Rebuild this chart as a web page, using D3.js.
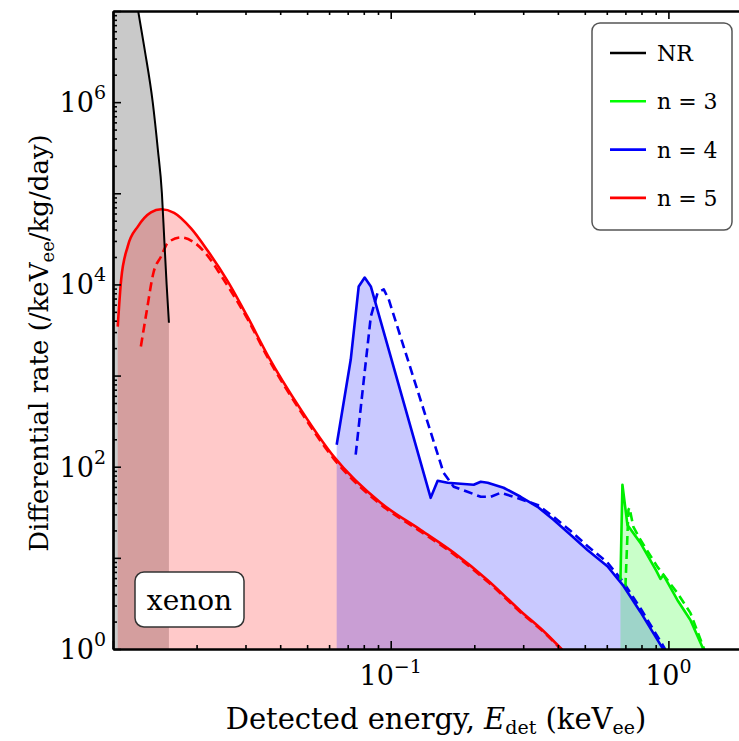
<!DOCTYPE html>
<html>
<head>
<meta charset="utf-8">
<script src="https://cdn.jsdelivr.net/npm/d3@7"></script>
<style>
    body { margin: 0; background: #fff; }
    svg { display: block; }
    text { font-family: "DejaVu Serif", serif; fill: #000; }
</style>
</head>
<body>
<script>
// energies in keVee, rates in /keVee/kg/day
let nrEnergy = [0.0100, 0.0123, 0.0130, 0.0139, 0.0145, 0.0150, 0.0153, 0.0156, 0.0159];
let nrRate = [1e9, 1.03e7, 3.8e6, 1.0e6, 3.05e5, 1.0e5, 3.1e4, 1.0e4, 3.8e3];

let n5Energy = [0.0104, 0.0107, 0.0113, 0.0123, 0.0137, 0.0149, 0.0166, 0.0191, 0.0220, 0.0259, 0.0306, 0.0361, 0.0475, 0.0624, 0.092, 0.128, 0.169, 0.223, 0.294, 0.361, 0.412, 0.45];
let n5Rate = [3.45e3, 1.13e4, 2.62e4, 4.34e4, 6.18e4, 6.67e4, 6.1e4, 4.12e4, 2.31e4, 1.08e4, 4.34e3, 1.66e3, 423, 129, 40.2, 20.3, 11.35, 5.73, 2.6, 1.5, 1.0, 0.75];
let n5DashEnergy = [0.0126, 0.0132, 0.0140, 0.0149, 0.0158, 0.0176, 0.0196, 0.0220, 0.0245, 0.0306, 0.0361, 0.0475, 0.0624, 0.092, 0.128, 0.169, 0.223, 0.294, 0.361, 0.412, 0.45];
let n5DashRate = [2.08e3, 4.92e3, 1.36e4, 2.03e4, 2.89e4, 3.28e4, 2.89e4, 2.03e4, 1.25e4, 4.1e3, 1.57e3, 400, 122, 38.5, 19.5, 10.9, 5.5, 2.52, 1.47, 0.98, 0.74];

let n4Energy = [0.0639, 0.0718, 0.0767, 0.0806, 0.0848, 0.1393, 0.1476, 0.1603, 0.199, 0.211, 0.2234, 0.2549, 0.2936, 0.338, 0.3857, 0.444, 0.511, 0.603, 0.689, 0.793, 0.951, 0.99];
let n4Rate = [174.5, 1.5e3, 9.5e3, 1.19e4, 9.5e3, 45.6, 70.2, 66.7, 63.4, 68.4, 66.7, 58.8, 46.8, 36.3, 26.2, 17.9, 12.2, 8.1, 4.92, 2.55, 1.03, 0.85];
let n4DashEnergy = [0.0748, 0.0793, 0.0848, 0.0898, 0.0944, 0.0984, 0.155, 0.1686, 0.189, 0.211, 0.229, 0.249, 0.277, 0.338, 0.3857, 0.444, 0.511, 0.603, 0.689, 0.793, 0.967, 0.99];
let n4DashRate = [135.5, 702, 4.45e3, 8.17e3, 8.81e3, 6.84e3, 85.9, 60.3, 53.1, 46.8, 46.8, 51.8, 46.8, 38.1, 28.3, 19.8, 13.5, 8.9, 5.4, 2.8, 1.03, 0.88];

let n3Energy = [0.672, 0.683, 0.712, 0.793, 0.905, 0.936, 0.959, 1.077, 1.200, 1.325, 1.36];
let n3Rate = [5.73, 63.4, 23.0, 14.6, 7.2, 5.88, 6.5, 3.45, 2.08, 1.05, 0.85];
let n3DashEnergy = [0.700, 0.718, 0.724, 0.748, 0.793, 0.913, 1.077, 1.200, 1.336, 1.37];
let n3DashRate = [4.80, 33.7, 35.4, 21.9, 15.8, 7.96, 4.12, 2.49, 1.05, 0.85];

let legendLabels = ["NR", "n = 3", "n = 4", "n = 5"];
let legendColors = ["#000000", "#00ff00", "#0000ff", "#ff0000"];
let xMajor = [0.01, 0.1, 1];
let yMajor = [1, 10, 100, 1e3, 1e4, 1e5, 1e6, 1e7];
let xLabels = [{v: 0.1, base: "10", exp: "\u22121"}, {v: 1, base: "10", exp: "0"}];
let yLabels = [{v: 1, exp: "0"}, {v: 100, exp: "2"}, {v: 1e4, exp: "4"}, {v: 1e6, exp: "6"}];

let zip = (a, b) => a.map((v, i) => [v, b[i]]);

let width = 739, height = 741;
let mLeft = 113, mRight = 752, mTop = 11, mBottom = 649;

let svg = d3.select("body").append("svg")
    .attr("width", width)
    .attr("height", height);

let x = d3.scaleLog().domain([0.01, 2]).range([mLeft, mRight]);
let y = d3.scaleLog().domain([1, 1e7]).range([mBottom, mTop]);

svg.append("defs").append("clipPath")
    .attr("id", "plot-clip")
    .append("rect")
    .attr("x", mLeft).attr("y", mTop)
    .attr("width", mRight - mLeft).attr("height", mBottom - mTop);

let plot = svg.append("g").attr("clip-path", "url(#plot-clip)");

let line = (smooth) => d3.line().x(d => x(d[0])).y(d => y(d[1]))
    .curve(smooth ? d3.curveMonotoneX : d3.curveLinear);
let area = (smooth) => d3.area().x(d => x(d[0])).y0(mBottom).y1(d => y(d[1]))
    .curve(smooth ? d3.curveMonotoneX : d3.curveLinear);

// shaded regions under the solid curves
let fills = [
    {data: zip(nrEnergy, nrRate), color: "#000000", smooth: true},
    {data: zip(n5Energy, n5Rate), color: "#ff0000", smooth: true},
    {data: zip(n4Energy, n4Rate), color: "#0000ff", smooth: false},
    {data: zip(n3Energy, n3Rate), color: "#00ff00", smooth: false}
];
plot.selectAll("path.fill")
    .data(fills)
    .enter().append("path")
    .attr("class", "fill")
    .attr("d", d => area(d.smooth)(d.data))
    .attr("fill", d => d.color)
    .attr("fill-opacity", 0.21);

let curves = [
    {data: zip(n5DashEnergy, n5DashRate), color: "#ff0000", dash: true, smooth: true},
    {data: zip(n4DashEnergy, n4DashRate), color: "#0000ee", dash: true},
    {data: zip(n3DashEnergy, n3DashRate), color: "#00ee00", dash: true},
    {data: zip(n5Energy, n5Rate), color: "#ff0000", dash: false, smooth: true},
    {data: zip(n4Energy, n4Rate), color: "#0000ee", dash: false},
    {data: zip(n3Energy, n3Rate), color: "#00ee00", dash: false},
    {data: zip(nrEnergy, nrRate), color: "#000000", dash: false, smooth: true, w: 2}
];
plot.selectAll("path.curve")
    .data(curves)
    .enter().append("path")
    .attr("class", "curve")
    .attr("d", d => line(d.smooth)(d.data))
    .attr("fill", "none")
    .attr("stroke", d => d.color)
    .attr("stroke-width", d => d.w || 2.6)
    .attr("stroke-linejoin", "round")
    .attr("stroke-dasharray", d => d.dash ? "9,5" : null);

// axes: ticks point inward
let minorOf = (majors) => {
    let out = [];
    majors.forEach(m => { for (let k = 2; k <= 9; k++) out.push(m * k); });
    return out;
};
let xMinor = minorOf([0.01, 0.1, 1]).filter(v => v < 2);
let yMinor = minorOf([1, 10, 100, 1e3, 1e4, 1e5, 1e6]);

let addAxis = function (axisFn, scale, values, size, tr) {
    svg.append("g")
        .attr("transform", tr)
        .call(axisFn(scale).tickValues(values).tickSizeInner(-size).tickSizeOuter(0).tickFormat(""))
        .call(g => g.selectAll("line").attr("stroke-width", 1.6))
        .call(g => g.select(".domain").attr("stroke-width", 2.2));
};
addAxis(d3.axisBottom, x, xMajor, 8, `translate(0,${mBottom})`);
addAxis(d3.axisBottom, x, xMinor, 4, `translate(0,${mBottom})`);
addAxis(d3.axisTop, x, xMajor, 8, `translate(0,${mTop})`);
addAxis(d3.axisTop, x, xMinor, 4, `translate(0,${mTop})`);
addAxis(d3.axisLeft, y, yMajor, 8, `translate(${mLeft},0)`);
addAxis(d3.axisLeft, y, yMinor, 4, `translate(${mLeft},0)`);

// tick labels with superscripts
let xl = svg.append("g").selectAll("text")
    .data(xLabels)
    .enter().append("text")
    .attr("x", d => x(d.v))
    .attr("y", 685)
    .attr("text-anchor", "middle")
    .style("font-size", "27px");
xl.append("tspan").text(d => d.base);
xl.append("tspan").attr("dy", -12).style("font-size", "19px").text(d => d.exp);

let yl = svg.append("g").selectAll("text")
    .data(yLabels)
    .enter().append("text")
    .attr("x", 106)
    .attr("y", d => y(d.v) + 10)
    .attr("text-anchor", "end")
    .style("font-size", "27px");
yl.append("tspan").text("10");
yl.append("tspan").attr("dy", -13).style("font-size", "19px").text(d => d.exp);

// axis titles
let xt = svg.append("text")
    .attr("x", 436)
    .attr("y", 729)
    .attr("text-anchor", "middle")
    .style("font-size", "29px");
xt.append("tspan").text("Detected energy, ");
xt.append("tspan").style("font-style", "italic").text("E");
xt.append("tspan").attr("dy", 5).style("font-size", "19px").text("det");
xt.append("tspan").attr("dy", -5).text(" (keV");
xt.append("tspan").attr("dy", 5).style("font-size", "19px").text("ee");
xt.append("tspan").attr("dy", -5).text(")");

let yt = svg.append("text")
    .attr("transform", "translate(48,343) rotate(-90)")
    .attr("text-anchor", "middle")
    .style("font-size", "26px");
yt.append("tspan").text("Differential rate (/keV");
yt.append("tspan").attr("dy", 6).style("font-size", "18px").text("ee");
yt.append("tspan").attr("dy", -6).text("/kg/day)");

// legend
let legend = svg.append("g");
legend.append("rect")
    .attr("x", 592).attr("y", 23)
    .attr("width", 140).attr("height", 207)
    .attr("rx", 8)
    .attr("fill", "#fff")
    .attr("stroke", "#555")
    .attr("stroke-width", 1.5);
let item = legend.selectAll("g.item")
    .data(legendLabels)
    .enter().append("g")
    .attr("class", "item")
    .attr("transform", (d, i) => `translate(610,${53 + i * 48.3})`);
item.append("line")
    .attr("x1", 0).attr("x2", 36)
    .attr("stroke", (d, i) => legendColors[i])
    .attr("stroke-width", 2.6);
item.append("text")
    .attr("x", 47)
    .attr("y", 8)
    .style("font-size", "22px")
    .text(d => d);

// material tag
let tag = svg.append("g");
tag.append("rect")
    .attr("x", 135).attr("y", 572)
    .attr("width", 109).attr("height", 55)
    .attr("rx", 9)
    .attr("fill", "#fff")
    .attr("stroke", "#333")
    .attr("stroke-width", 1.5);
tag.append("text")
    .attr("x", 189.5)
    .attr("y", 610)
    .attr("text-anchor", "middle")
    .style("font-size", "28px")
    .text("xenon");
</script>
</body>
</html>
